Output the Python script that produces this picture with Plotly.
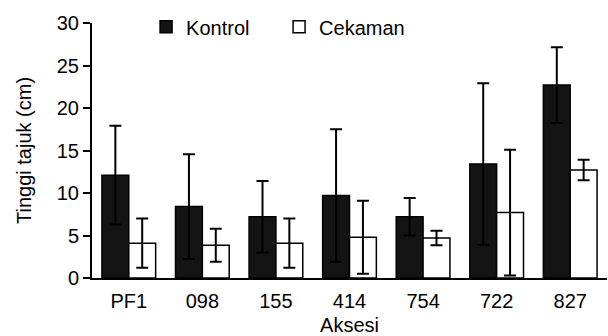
import plotly.graph_objects as go

categories = ["PF1", "098", "155", "414", "754", "722", "827"]
kontrol = [12.1, 8.4, 7.2, 9.7, 7.2, 13.4, 22.7]
kontrol_err = [5.8, 6.15, 4.2, 7.8, 2.2, 9.5, 4.45]
cekaman = [4.1, 3.85, 4.1, 4.8, 4.7, 7.7, 12.7]
cekaman_err = [2.9, 1.95, 2.9, 4.3, 0.85, 7.4, 1.2]
y_ticks = [0, 5, 10, 15, 20, 25, 30]

FONT = "Liberation Sans, Arial, sans-serif"
FS = 20

fig = go.Figure()
fig.add_trace(go.Bar(
    x=categories, y=kontrol, name="Kontrol",
    marker=dict(color="#141414", line=dict(color="black", width=1.5)),
    error_y=dict(type="data", array=kontrol_err, color="black", thickness=2, width=6),
))
fig.add_trace(go.Bar(
    x=categories, y=cekaman, name="Cekaman",
    marker=dict(color="white", line=dict(color="black", width=1.5)),
    error_y=dict(type="data", array=cekaman_err, color="black", thickness=2, width=6),
))

fig.update_layout(
    width=608, height=336,
    margin=dict(l=92, r=1, t=23, b=56),
    paper_bgcolor="white", plot_bgcolor="white",
    barmode="group", bargap=0.27, bargroupgap=0,
    font=dict(family=FONT, size=FS, color="black"),
    showlegend=True,
    legend=dict(orientation="h", x=0.105, y=0.985, xanchor="left", yanchor="middle",
                bgcolor="rgba(0,0,0,0)", font=dict(size=FS), itemwidth=30,
                entrywidth=88, entrywidthmode="pixels"),
    xaxis=dict(
        type="category", range=[-0.5, 6.5],
        showline=True, linecolor="black", linewidth=2,
        ticks="", showgrid=False, zeroline=False,
        tickfont=dict(size=FS), ticklabelstandoff=4,
        title=dict(text="Aksesi", font=dict(size=FS), standoff=9),
    ),
    yaxis=dict(
        range=[0, 30], tickvals=y_ticks,
        showline=True, linecolor="black", linewidth=2,
        ticks="outside", ticklen=7, tickwidth=2, tickcolor="black",
        showgrid=False, zeroline=False,
        tickfont=dict(size=FS),
        title=dict(text="Tinggi tajuk (cm)", font=dict(size=FS), standoff=20),
    ),
)

fig.write_html("out.html", config={"displayModeBar": False},
               post_script="document.body.style.margin='0';")
